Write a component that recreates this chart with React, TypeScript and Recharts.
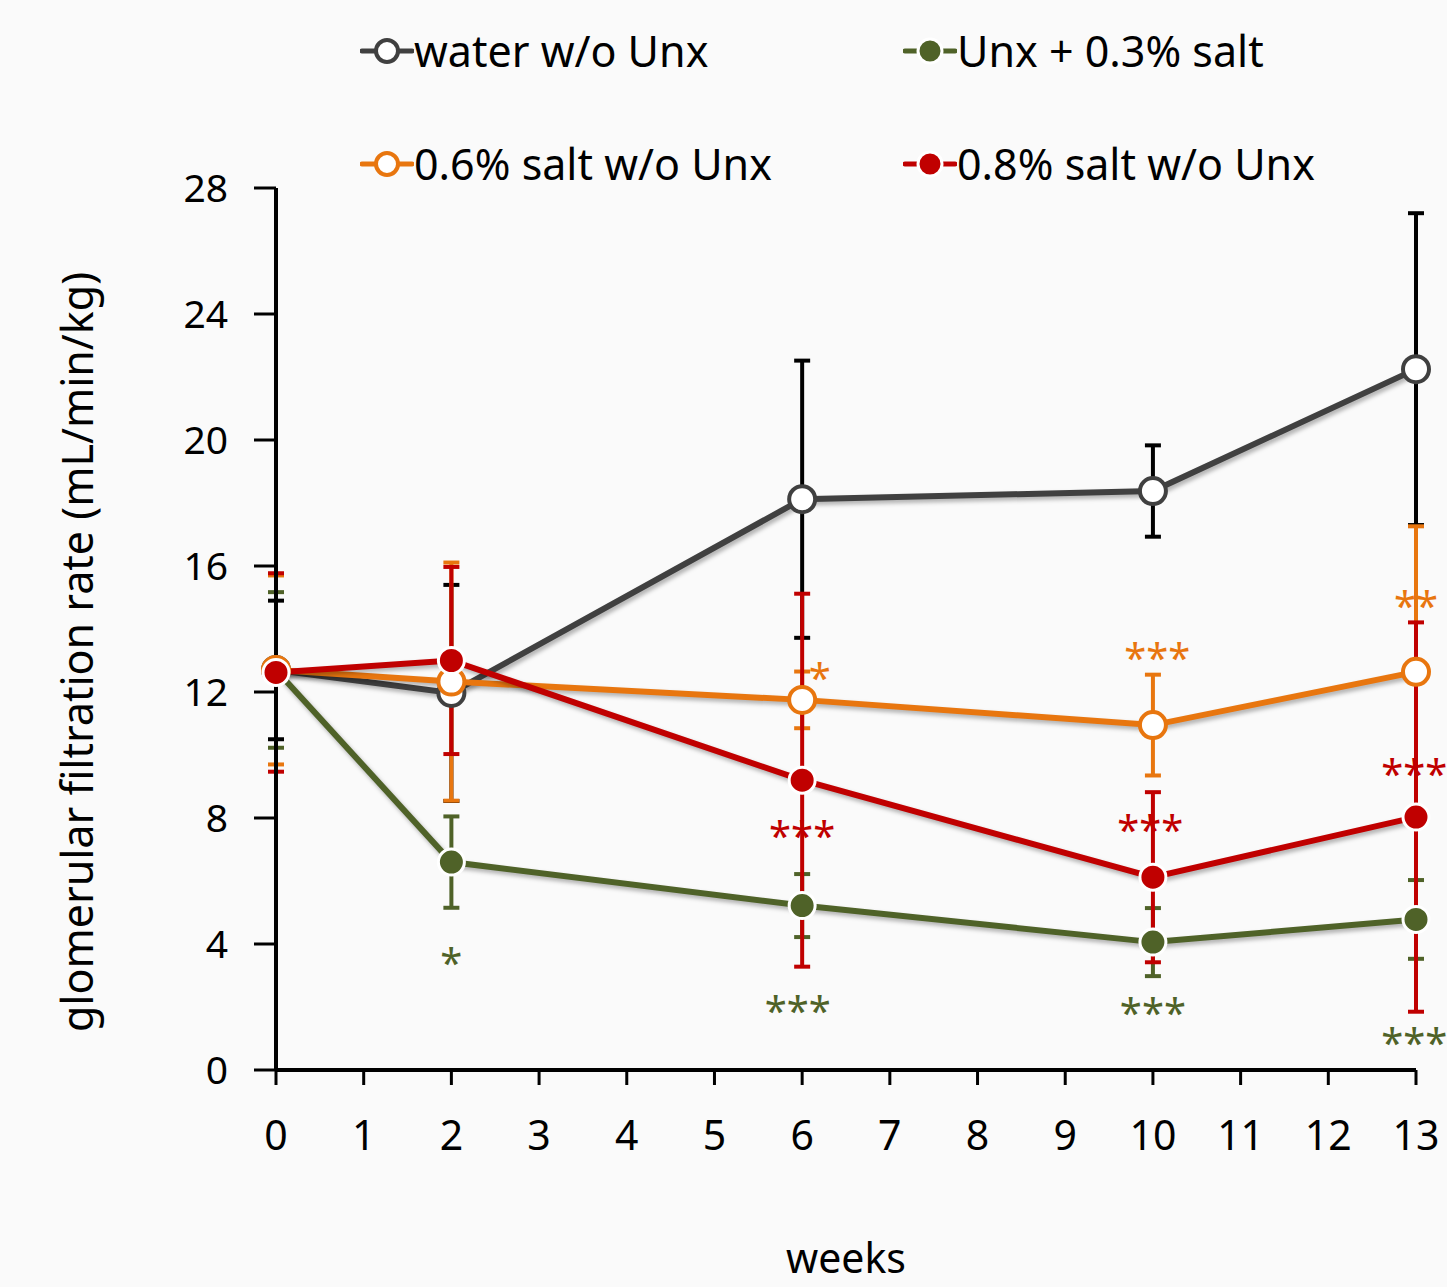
import React from "react";
import { ComposedChart, Line, XAxis, YAxis, ErrorBar, Scatter } from "recharts";

// weeks measured
const weeks = [0, 2, 6, 10, 13];

// mean GFR (mL/min/kg) per group, with SD used for the error bars
const waterMean = [12.7, 11.97, 18.12, 18.38, 22.25];
const waterErr = [2.2, 3.43, 4.4, 1.45, 4.95];
const unxMean = [12.7, 6.6, 5.22, 4.06, 4.78];
const unxErr = [2.47, 1.45, 1.0, 1.08, 1.25];
const salt06Mean = [12.7, 12.33, 11.75, 10.95, 12.64];
const salt06Err = [3.0, 3.78, 0.9, 1.6, 4.62];
const salt08Mean = [12.62, 13.0, 9.2, 6.12, 8.03];
const salt08Err = [3.15, 2.97, 5.92, 2.7, 6.18];

// significance marks, placed at (week, value)
const unxStars = [
  { week: 2, value: 3.65, text: "*" },
  { week: 5.95, value: 2.13, text: "***" },
  { week: 10, value: 2.06, text: "***" },
  { week: 12.98, value: 1.1, text: "***" },
];
const salt06Stars = [
  { week: 6.2, value: 12.7, text: "*" },
  { week: 10.05, value: 13.33, text: "***" },
  { week: 13, value: 15.0, text: "**" },
];
const salt08Stars = [
  { week: 6.0, value: 7.68, text: "***" },
  { week: 9.97, value: 7.87, text: "***" },
  { week: 12.98, value: 9.65, text: "***" },
];

const xTicks = [0, 1, 2, 3, 4, 5, 6, 7, 8, 9, 10, 11, 12, 13];
const yTicks = [0, 4, 8, 12, 16, 20, 24, 28];

const data = weeks.map((w, i) => ({
  week: w,
  water: waterMean[i],
  waterErr: waterErr[i],
  unx: unxMean[i],
  unxErr: unxErr[i],
  salt06: salt06Mean[i],
  salt06Err: salt06Err[i],
  salt08: salt08Mean[i],
  salt08Err: salt08Err[i],
}));

const FONT = "'Noto Sans', 'Open Sans', sans-serif";

const series = [
  { key: "water", name: "water w/o Unx", color: "#404040", errColor: "#000000", hollow: true, stars: null as any },
  { key: "unx", name: "Unx + 0.3% salt", color: "#4F6228", errColor: "#4F6228", hollow: false, stars: unxStars },
  { key: "salt06", name: "0.6% salt w/o Unx", color: "#E8760F", errColor: "#E8760F", hollow: true, stars: salt06Stars },
  { key: "salt08", name: "0.8% salt w/o Unx", color: "#C00000", errColor: "#C00000", hollow: false, stars: salt08Stars },
];

// legend layout: [water, unx] on row 1, [salt06, salt08] on row 2
const legendPos: Record<string, { left: number; top: number }> = {
  water: { left: 360, top: 51 },
  unx: { left: 903, top: 51 },
  salt06: { left: 360, top: 164 },
  salt08: { left: 903, top: 164 },
};

function LegendIcon({ color, hollow }: { color: string; hollow: boolean }) {
  return (
    <svg width={54} height={40} style={{ display: "block" }}>
      <line x1={2} y1={20} x2={52} y2={20} stroke={color} strokeWidth={5} strokeLinecap="round" />
      {hollow ? (
        <circle cx={27} cy={20} r={11} fill="#fff" stroke={color} strokeWidth={4} />
      ) : (
        <circle cx={27} cy={20} r={12} fill={color} stroke="#fff" strokeWidth={3} />
      )}
    </svg>
  );
}

export default function App() {
  return (
    <div
      style={{
        position: "absolute",
        left: 0,
        top: 0,
        width: 1447,
        height: 1287,
        background: "#fafafa",
        fontFamily: FONT,
        overflow: "hidden",
      }}
    >
      <style>{`.recharts-line-curve { filter: drop-shadow(2px 3px 2px rgba(0,0,0,0.3)); }`}</style>
      {series.map((s) => (
        <div
          key={s.key}
          style={{
            position: "absolute",
            left: legendPos[s.key].left,
            top: legendPos[s.key].top - 20,
            height: 40,
            display: "flex",
            alignItems: "center",
            fontSize: 43,
            color: "#000",
            whiteSpace: "nowrap",
          }}
        >
          <LegendIcon color={s.color} hollow={s.hollow} />
          <span style={{ lineHeight: "40px" }}>{s.name}</span>
        </div>
      ))}
      <ComposedChart
        width={1447}
        height={1287}
        data={data}
        margin={{ top: 188, right: 31, bottom: 0, left: 0 }}
        style={{ position: "absolute", left: 0, top: 0 }}
      >
        <XAxis
          dataKey="week"
          type="number"
          domain={[0, 13]}
          ticks={xTicks}
          interval={0}
          height={217}
          axisLine={{ stroke: "#000", strokeWidth: 4 }}
          tickLine={{ stroke: "#000", strokeWidth: 3 }}
          tickSize={15}
          tickMargin={36}
          tick={{ fill: "#000", fontSize: 41, fontFamily: FONT }}
          label={{
            value: "weeks",
            position: "insideBottom",
            offset: 14,
            fill: "#000",
            fontSize: 41,
            fontFamily: FONT,
          }}
        />
        <YAxis
          type="number"
          domain={[0, 28]}
          ticks={yTicks}
          interval={0}
          width={276}
          axisLine={{ stroke: "#000", strokeWidth: 4 }}
          tickLine={{ stroke: "#000", strokeWidth: 3 }}
          tickSize={22}
          tickMargin={26}
          tick={{ fill: "#000", fontSize: 39, fontFamily: FONT }}
          label={{
            value: "glomerular filtration rate (mL/min/kg)",
            angle: -90,
            position: "insideLeft",
            offset: 78,
            dy: 23,
            fill: "#000",
            fontSize: 43,
            fontFamily: FONT,
            style: { textAnchor: "middle" },
          }}
        />
        {series.map((s) => (
          <Line
            key={s.key}
            dataKey={s.key}
            name={s.name}
            type="linear"
            stroke={s.color}
            strokeWidth={6}
            isAnimationActive={false}
            dot={
              s.hollow
                ? { r: 13, fill: "#fff", stroke: s.color, strokeWidth: 4 }
                : { r: 13, fill: s.color, stroke: "#fff", strokeWidth: 3 }
            }
            activeDot={false}
          >
            <ErrorBar
              dataKey={`${s.key}Err`}
              direction="y"
              width={8}
              stroke={s.errColor}
              strokeWidth={4}
            />
          </Line>
        ))}
        {series
          .filter((s) => s.stars)
          .map((s) => (
            <Scatter
              key={`${s.key}-stars`}
              data={s.stars}
              dataKey="value"
              isAnimationActive={false}
              shape={(p: any) => (
                <text
                  x={p.cx}
                  y={p.cy}
                  dy="0.55em"
                  textAnchor="middle"
                  fill={s.color}
                  fontSize={40}
                  fontFamily={FONT}
                >
                  {p.payload.text}
                </text>
              )}
            />
          ))}
      </ComposedChart>
    </div>
  );
}
